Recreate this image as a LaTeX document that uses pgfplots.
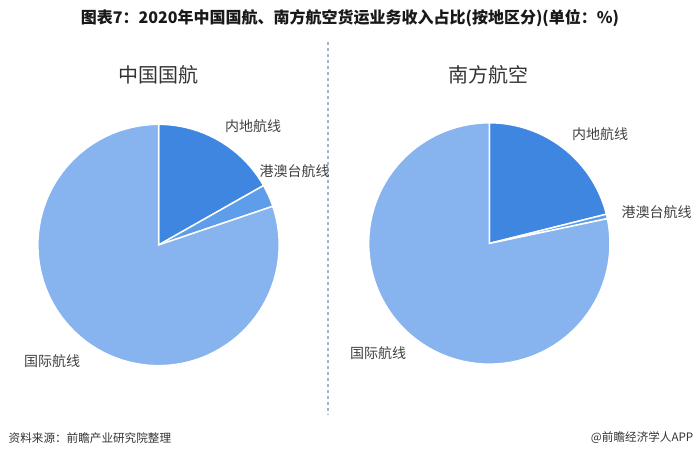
\documentclass[border=0pt]{standalone}
\usepackage{pgfplots}
\pgfplotsset{compat=1.18}
\usepackage{fontspec}
\setmainfont{Noto Sans CJK SC}

\definecolor{inland}{HTML}{3F86E0}
\definecolor{hmt}{HTML}{5E9DE9}
\definecolor{intl}{HTML}{87B3EE}
\definecolor{txt}{HTML}{404040}
\definecolor{sep}{HTML}{9DB5D0}

% shares in percent
\def\caInland{16.8}\def\caHMT{3.0}\def\caIntl{80.2}
\def\csInland{21.1}\def\csHMT{0.6}\def\csIntl{78.3}

% one wedge, clockwise from 12 o'clock: #1 share before it, #2 its share, #3 colour
\newcommand{\slice}[3]{%
  \addplot[fill=#3, draw=white, line width=1.1pt, samples=90,
    domain={90-3.6*(#1+#2)}:{90-3.6*(#1)}]
    ({cos(x)},{sin(x)}) -- (axis cs:0,0) -- cycle;}

\pgfplotsset{pie/.style={hide axis, scale only axis, width=181pt, height=181pt,
  xmin=-1, xmax=1, ymin=-1, ymax=1, clip=false, anchor=center}}

\begin{document}
\begin{tikzpicture}[x=0.75pt, y=-0.75pt]
\path (0,0) rectangle (700,458);

\node[font=\fontsize{12}{14}\selectfont\bfseries, text=black!90] at (350,18)
  {图表7：2020年中国国航、南方航空货运业务收入占比(按地区分)(单位：\%)};

% pie centres: (158.5px,245px) and (489.3px,243.5px), 1px = 0.75pt
\begin{axis}[pie, at={(118.9pt,-183.75pt)}]
\slice{0}{\caInland}{inland}
\slice{\caInland}{\caHMT}{hmt}
\slice{\caInland+\caHMT}{\caIntl}{intl}
\end{axis}

\begin{axis}[pie, at={(367pt,-182.6pt)}]
\slice{0}{\csInland}{inland}
\slice{\csInland}{\csHMT}{hmt}
\slice{\csInland+\csHMT}{\csIntl}{intl}
\end{axis}

\draw[sep, line width=1pt, dash pattern=on 2.5pt off 2pt] (328,42) -- (328,415);

\begin{scope}[font=\fontsize{15}{17}\selectfont, text=black!80]
\node at (158,75) {中国国航};
\node at (488,75) {南方航空};
\end{scope}

\begin{scope}[font=\fontsize{10.5}{12}\selectfont, text=txt]
\node at (253,126) {内地航线};
\node[anchor=west] at (255,171) {港澳台航线};
\node at (52,361) {国际航线};
\node at (600,134) {内地航线};
\node[anchor=west] at (617,212) {港澳台航线};
\node at (378,353) {国际航线};
\end{scope}

\begin{scope}[font=\fontsize{8.7}{10}\selectfont, text=black!80]
\node[anchor=west] at (4,438) {资料来源：前瞻产业研究院整理};
\node[anchor=east] at (698,438) {@前瞻经济学人APP};
\end{scope}
\end{tikzpicture}
\end{document}
